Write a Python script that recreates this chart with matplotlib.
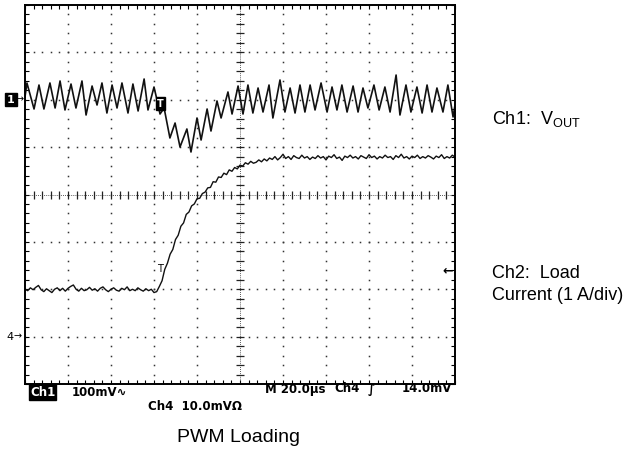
import numpy as np
import matplotlib
matplotlib.use("Agg")
from matplotlib import pyplot as plt

# Ch1: Vout ripple, time (us) and offset from ch1 reference (mV), 100 mV/div
ch1_t = [0.0, 0.9, 4.2, 6.5, 8.8, 11.6, 14.0, 16.3, 18.6, 21.4, 23.7, 26.5, 28.4,
         31.2, 33.5, 35.8, 38.1, 40.5, 42.8, 45.1, 47.9, 50.2, 52.6, 55.4, 57.2,
         60.0, 61.4, 62.8, 64.7, 67.4, 69.8, 72.1, 75.3, 77.2, 80.0, 81.9, 84.7,
         86.5, 89.3, 91.2, 94.4, 96.3, 99.1, 101.4, 103.7, 106.0, 108.4, 110.7,
         113.5, 115.3, 118.6, 120.9, 123.3, 125.6, 127.9, 130.2, 132.6, 134.9,
         137.7, 140.5, 142.8, 145.1, 147.4, 149.8, 152.6, 154.9, 157.2, 159.5,
         162.3, 164.7, 167.4, 169.8, 172.6, 174.4, 177.2, 179.5, 182.3, 184.7,
         187.0, 189.3, 191.6, 194.4, 196.7, 199.1, 200.0]
ch1_mv = [6, 35.4, -19.5, 31.1, -19.5, 35.4, -17.4, 39.6, -21.6, 33.2, -17.4, 39.6, -32.2,
          29.0, -11.1, 35.4, -28.0, 31.1, -17.4, 35.4, -28.0, 33.2, -23.7, 43.8, -21.6,
          26.9, -0.5, -30.1, -17.4, -80.7, -49.1, -99.7, -61.7, -110.3, -38.5, -85.0, -19.5,
          -66.0, -2.6, -38.5, 16.4, -30.1, 29.0, -30.1, 31.1, -28.0, 24.8, -25.9,
          31.1, -38.5, 41.7, -25.9, 24.8, -28.0, 31.1, -25.9, 31.1, -21.6,
          35.4, -25.9, 26.9, -21.6, 31.1, -25.9, 29.0, -25.9, 24.8, -17.4,
          31.1, -21.6, 26.9, -25.9, 52.2, -32.2, 31.1, -25.9, 26.9, -28.0,
          31.1, -25.9, 24.8, -25.9, 31.1, -36.4, -11.1]

# Ch2: load current (A), 1 A/div, one sample every 1.25 us
ch2_dt = 1.25
ch2_a = [
    # before the load step
    1.00, 0.97, 1.03, 0.99, 1.04, 1.08, 0.99, 0.95, 1.01, 0.97, 0.93, 1.00, 1.03,
    0.97, 1.02, 0.96, 1.02, 1.06, 1.09, 1.00, 0.96, 1.02, 0.97, 0.99, 1.04, 0.98,
    1.01, 0.96, 1.02, 1.05, 0.99, 0.95, 1.00, 1.03, 0.98, 0.96, 1.02, 0.99, 1.05,
    0.97, 1.00, 0.97, 1.03, 0.99, 0.96, 1.01, 0.97, 1.00, 0.93,
    # ramp
    0.95, 1.06, 1.18, 1.42, 1.55, 1.74, 1.84, 2.05, 2.14, 2.33, 2.40, 2.58, 2.63,
    2.76, 2.80, 2.91, 2.92, 3.02, 3.05, 3.14, 3.15, 3.27, 3.26, 3.37, 3.36, 3.45,
    3.42, 3.52, 3.49, 3.57, 3.54, 3.62,
    # settled
    3.60, 3.67, 3.64, 3.70, 3.66, 3.68, 3.73, 3.69, 3.75, 3.71,
    3.77, 3.74, 3.80, 3.73, 3.78, 3.85, 3.76, 3.80, 3.74, 3.82,
    3.78, 3.76, 3.83, 3.77, 3.80, 3.74, 3.79, 3.76, 3.82, 3.77,
    3.80, 3.73, 3.81, 3.78, 3.84, 3.76, 3.79, 3.72, 3.81, 3.78,
    3.83, 3.77, 3.80, 3.75, 3.82, 3.79, 3.76, 3.84, 3.78, 3.81,
    3.75, 3.80, 3.77, 3.83, 3.78, 3.80, 3.74, 3.82, 3.78, 3.85,
    3.77, 3.80, 3.75, 3.81, 3.78, 3.83, 3.76, 3.80, 3.77, 3.82,
    3.79, 3.75, 3.81, 3.78, 3.84, 3.76, 3.80, 3.77, 3.83, 3.79]
ch2_t = [i * ch2_dt for i in range(len(ch2_a))]

ch1_ref = 2.0   # divisions, "1" marker
ch2_ref = -3.0  # divisions, "4" marker
trig_t = 63.0
trig_level = 1.4  # A above ch2 reference

W, H = 628, 455
fig = plt.figure(figsize=(W / 100, H / 100), dpi=100)
ax = fig.add_axes([25 / W, 1 - 384 / H, 430 / W, 379 / H])
ax.set_xlim(0, 200)
ax.set_ylim(-4, 4)

# graticule
dot = dict(ls='none', marker='s', ms=1.1, color='#333333', mew=0)
for k in range(1, 10):
    if k == 5:
        continue
    gy = np.arange(-4, 4.01, 0.2)
    ax.plot(np.full_like(gy, 20 * k), gy, **dot)
for k in range(-3, 4):
    if k == 0:
        continue
    gx = np.arange(0, 200.1, 4)
    ax.plot(gx, np.full_like(gx, k), **dot)
ax.axvline(100, color='#222222', lw=0.6, ls=(0, (1, 1.5)))
ax.axhline(0, color='#222222', lw=0.6, ls=(0, (1, 1.5)))
cy = np.arange(-4, 4.01, 0.2)
ax.plot(np.full_like(cy, 100), cy, ls='none', marker='_', ms=6, mew=0.9, color='#222222')
cx = np.arange(0, 200.1, 4)
ax.plot(cx, np.zeros_like(cx), ls='none', marker='|', ms=6, mew=0.9, color='#222222')

ax.set_xticks(np.arange(0, 201, 20))
ax.set_xticks(np.arange(0, 201, 4), minor=True)
ax.set_yticks(np.arange(-4, 5, 1))
ax.set_yticks(np.arange(-4, 4.01, 0.2), minor=True)
ax.tick_params(which='both', direction='in', length=3, width=0.8,
               top=True, right=True, labelleft=False, labelbottom=False)
for s in ax.spines.values():
    s.set_linewidth(1.4)

# traces
ax.plot(ch1_t, [ch1_ref + v / 100 for v in ch1_mv], color='#111111', lw=1.2,
        solid_joinstyle='round')
ax.plot(ch2_t, [ch2_ref + a for a in ch2_a], color='#111111', lw=1.0,
        solid_joinstyle='round')

# trigger markers
ax.text(trig_t, ch1_ref - 0.08, 'T', color='white', fontsize=7, fontweight='bold',
        ha='center', va='center',
        bbox=dict(boxstyle='square,pad=0.15', fc='black', ec='black'))
ax.text(trig_t, ch2_ref + trig_level + 0.02, 'T', color='black', fontsize=7,
        ha='center', va='center')
ax.text(199, ch2_ref + trig_level, '\u2190', fontsize=9, fontweight='bold',
        ha='right', va='center')

# left channel markers
def ypix(div):
    return (384 - (div + 4) * 379 / 8)

fig.text(11 / W, 1 - ypix(ch1_ref) / H, '1', color='white', fontsize=8, fontweight='bold',
         ha='center', va='center',
         bbox=dict(boxstyle='square,pad=0.15', fc='black', ec='black'))
fig.text(16 / W, 1 - ypix(ch1_ref) / H, '\u2192', fontsize=7, ha='left', va='center')
fig.text(10 / W, 1 - ypix(ch2_ref) / H, '4', fontsize=8, ha='center', va='center')
fig.text(14 / W, 1 - ypix(ch2_ref) / H, '\u2192', fontsize=7, ha='left', va='center')

# scope readouts
mono = dict(fontsize=8.5, family='DejaVu Sans', fontweight='bold', va='center')
fig.text(30 / W, 1 - 392 / H, 'Ch1', color='white',
         bbox=dict(boxstyle='square,pad=0.1', fc='black', ec='black'), **mono)
fig.text(72 / W, 1 - 392 / H, '100mV\u223f', **mono)
fig.text(148 / W, 1 - 407 / H, 'Ch4  10.0mV\u03a9', **mono)
fig.text(265 / W, 1 - 389 / H, 'M 20.0\u00b5s', **mono)
fig.text(334 / W, 1 - 389 / H, 'Ch4', **mono)
fig.text(368 / W, 1 - 389 / H, '\u222b', **mono)
fig.text(452 / W, 1 - 389 / H, '14.0mV', ha='right',
         **{k: v for k, v in mono.items()})

# captions
plt.rcParams['mathtext.fontset'] = 'custom'
plt.rcParams['mathtext.rm'] = 'Liberation Sans'
lab = dict(fontsize=13, family='Liberation Sans', va='center', ha='left')
fig.text(492 / W, 1 - 119 / H, r'Ch1:  V$_{\mathrm{OUT}}$', **lab)
fig.text(492 / W, 1 - 273 / H, 'Ch2:  Load', **lab)
fig.text(492 / W, 1 - 296 / H, 'Current (1 A/div)', **lab)
fig.text(238 / W, 1 - 438 / H, 'PWM Loading', fontsize=14, family='Liberation Sans',
         ha='center', va='center')

fig.savefig('out.png', dpi=100)
